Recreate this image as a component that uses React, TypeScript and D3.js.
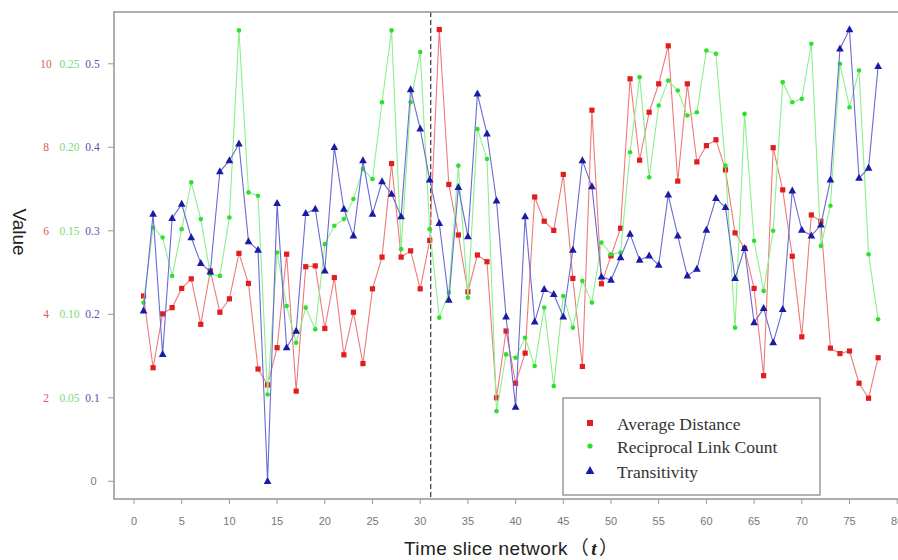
import React from "react";
import * as d3 from "d3";

const timeSlices: number[] = d3.range(1, 79);

const averageDistance: number[] = [
  4.44, 2.72, 4.01, 4.16, 4.62, 4.85, 3.76, 5.04, 4.05, 4.37,
  5.46, 4.74, 2.69, 2.31, 3.2, 5.44, 2.16, 5.14, 5.16, 3.66,
  4.88, 3.03, 4.05, 2.82, 4.61, 5.37, 7.61, 5.37, 5.52, 4.61,
  5.77, 10.82, 7.11, 5.9, 4.54, 5.42, 5.26, 2.0, 3.6, 2.35,
  3.07, 6.81, 6.23, 6.01, 7.35, 4.86, 2.75, 8.89, 4.73, 5.4,
  6.06, 9.64, 7.69, 8.84, 9.52, 10.43, 7.19, 9.52, 7.65, 8.04,
  8.18, 7.46, 5.95, 5.58, 4.62, 2.53, 7.99, 6.98, 5.39, 3.46,
  6.38, 6.23, 3.19, 3.06, 3.12, 2.35, 1.99, 2.96,
];

const reciprocalLinkCount: number[] = [
  0.107, 0.152, 0.146, 0.123, 0.151, 0.179, 0.157, 0.124, 0.123, 0.158,
  0.27, 0.173, 0.171, 0.052, 0.137, 0.105, 0.083, 0.104, 0.091, 0.142,
  0.153, 0.157, 0.169, 0.187, 0.181, 0.227, 0.27, 0.139, 0.227, 0.257,
  0.151, 0.098, 0.113, 0.189, 0.11, 0.211, 0.193, 0.042, 0.076, 0.074,
  0.086, 0.069, 0.104, 0.057, 0.111, 0.092, 0.12, 0.107, 0.143, 0.136,
  0.137, 0.197, 0.242, 0.182, 0.225, 0.24, 0.234, 0.219, 0.221, 0.258,
  0.256, 0.189, 0.092, 0.22, 0.144, 0.114, 0.15, 0.239, 0.227, 0.229,
  0.262, 0.141, 0.165, 0.25, 0.224, 0.246, 0.136, 0.097,
];

const transitivity: number[] = [
  0.204, 0.32, 0.152, 0.315, 0.332, 0.292, 0.261, 0.251, 0.371, 0.384,
  0.404, 0.287, 0.277, 0.0, 0.333, 0.16, 0.18, 0.321, 0.326, 0.252,
  0.4, 0.326, 0.294, 0.384, 0.32, 0.359, 0.344, 0.317, 0.469, 0.422,
  0.361, 0.309, 0.217, 0.352, 0.293, 0.464, 0.416, 0.336, 0.197, 0.089,
  0.317, 0.191, 0.23, 0.224, 0.197, 0.277, 0.384, 0.353, 0.245, 0.241,
  0.268, 0.296, 0.265, 0.27, 0.259, 0.343, 0.294, 0.246, 0.254, 0.301,
  0.339, 0.328, 0.243, 0.279, 0.19, 0.207, 0.166, 0.206, 0.348, 0.301,
  0.294, 0.307, 0.361, 0.518, 0.541, 0.363, 0.375, 0.497,
];

const xTicks: number[] = [0, 5, 10, 15, 20, 25, 30, 35, 40, 45, 50, 55, 60, 65, 70, 75, 80];
const redTicks: number[] = [2, 4, 6, 8, 10];
const greenTicks: string[] = ["0.05", "0.10", "0.15", "0.20", "0.25"];
const blueTicks: string[] = ["0.1", "0.2", "0.3", "0.4", "0.5"];
const splitPoint = 31.1;

const seriesNames = ["Average Distance", "Reciprocal Link Count", "Transitivity"];

export default function App() {
  const W = 898;
  const H = 560;
  const x = d3.scaleLinear().domain([0, 80]).range([134, 897.2]);
  const yB = d3.scaleLinear().domain([0, 0.5]).range([481.3, 63.8]);
  const yR = d3.scaleLinear().domain([0, 10]).range([481.3, 63.8]);
  const yG = d3.scaleLinear().domain([0, 0.25]).range([481.3, 63.8]);

  const boxL = 114, boxT = 12, boxB = 499, boxR = 908;

  const lineR = d3.line<number>().x((_, i) => x(timeSlices[i])).y((d) => yR(d));
  const lineG = d3.line<number>().x((_, i) => x(timeSlices[i])).y((d) => yG(d));
  const lineB = d3.line<number>().x((_, i) => x(timeSlices[i])).y((d) => yB(d));

  const redC = "#e01e1e", redL = "#f07a7a";
  const greenC = "#2ee02e", greenL = "#8cf08c";
  const blueC = "#1a1aa6", blueL = "#6a6ad6";

  const tri = (cx: number, cy: number, s: number) =>
    `M${cx},${cy - s * 0.62} L${cx + s * 0.55},${cy + s * 0.38} L${cx - s * 0.55},${cy + s * 0.38} Z`;

  const legendRows = [423, 446, 471];

  return (
    <div style={{ position: "absolute", left: 0, top: 0 }}>
      <svg width={W} height={H} style={{ display: "block", background: "#fff" }}>
        <rect x={0} y={0} width={W} height={H} fill="#fff" />
        {/* split line */}
        <line x1={x(splitPoint)} x2={x(splitPoint)} y1={boxT} y2={boxB} stroke="#444" strokeWidth={1.3} strokeDasharray="5,3" />
        {/* lines */}
        <path d={lineR(averageDistance) || ""} fill="none" stroke={redL} strokeWidth={1.1} />
        {averageDistance.map((d, i) => (
          <rect key={"r" + i} x={x(timeSlices[i]) - 2.6} y={yR(d) - 2.6} width={5.2} height={5.2} fill={redC} />
        ))}
        <path d={lineG(reciprocalLinkCount) || ""} fill="none" stroke={greenL} strokeWidth={1.1} />
        {reciprocalLinkCount.map((d, i) => (
          <circle key={"g" + i} cx={x(timeSlices[i])} cy={yG(d)} r={2.3} fill={greenC} />
        ))}
        <path d={lineB(transitivity) || ""} fill="none" stroke={blueL} strokeWidth={1.1} />
        {transitivity.map((d, i) => (
          <path key={"b" + i} d={tri(x(timeSlices[i]), yB(d), 7)} fill={blueC} />
        ))}
        {/* box */}
        <rect x={boxL} y={boxT} width={boxR - boxL} height={boxB - boxT} fill="none" stroke="#9a9a9a" strokeWidth={1.6} />
        {/* x ticks */}
        {xTicks.map((t) => (
          <g key={"xt" + t}>
            <line x1={x(t)} x2={x(t)} y1={boxB} y2={boxB + 5} stroke="#9a9a9a" strokeWidth={1} />
            <text x={x(t)} y={525} textAnchor="middle" fontFamily="Liberation Sans, Arial, sans-serif" fontSize={11} fill="#777">
              {t}
            </text>
          </g>
        ))}
        {/* y ticks */}
        {[0, 0.1, 0.2, 0.3, 0.4, 0.5].map((v) => (
          <line key={"yt" + v} x1={boxL - 6} x2={boxL} y1={yB(v)} y2={yB(v)} stroke="#9a9a9a" strokeWidth={1} />
        ))}
        <text x={93.5} y={yB(0) + 4} textAnchor="middle" fontFamily="Liberation Sans, Arial, sans-serif" fontSize={11} fill="#777">0</text>
        {redTicks.map((v, i) => (
          <g key={"yl" + v}>
            <text x={46} y={yR(v) + 4} textAnchor="middle" fontFamily="Liberation Serif, Times New Roman, serif" fontSize={11.5} fill="#e05a5a">{v}</text>
            <text x={69.5} y={yR(v) + 4} textAnchor="middle" fontFamily="Liberation Serif, Times New Roman, serif" fontSize={11.5} fill="#7ada7a">{greenTicks[i]}</text>
            <text x={92.5} y={yR(v) + 4} textAnchor="middle" fontFamily="Liberation Serif, Times New Roman, serif" fontSize={11.5} fill="#5252a8">{blueTicks[i]}</text>
          </g>
        ))}
        {/* axis titles */}
        <text transform="translate(13,232) rotate(90)" textAnchor="middle" fontFamily="Liberation Sans, Arial, sans-serif" fontSize={19} fill="#222">Value</text>
        <text x={404} y={555} fontFamily="Liberation Sans, Arial, sans-serif" fontSize={19} letterSpacing={0.4} fill="#222">
          Time slice network<tspan dx={2} fontFamily="Noto Sans CJK SC">（</tspan>
          <tspan dx={2} fontStyle="italic" fontWeight="bold" fontFamily="Liberation Serif, serif">t</tspan>
          <tspan dx={2} fontFamily="Noto Sans CJK SC">）</tspan>
        </text>
        {/* legend */}
        <rect x={563} y={398} width={257} height={97} fill="#fff" stroke="#8a8a8a" strokeWidth={1.3} />
        <rect x={590 - 3} y={legendRows[0] - 3} width={6} height={6} fill={redC} />
        <circle cx={590} cy={legendRows[1]} r={2.6} fill={greenC} />
        <path d={tri(590, legendRows[2], 8)} fill={blueC} />
        {seriesNames.map((s, i) => (
          <text key={s} x={617} y={legendRows[i] + 6.5} fontFamily="Liberation Serif, Times New Roman, serif" fontSize={17.5} fill="#333">{s}</text>
        ))}
      </svg>
    </div>
  );
}
